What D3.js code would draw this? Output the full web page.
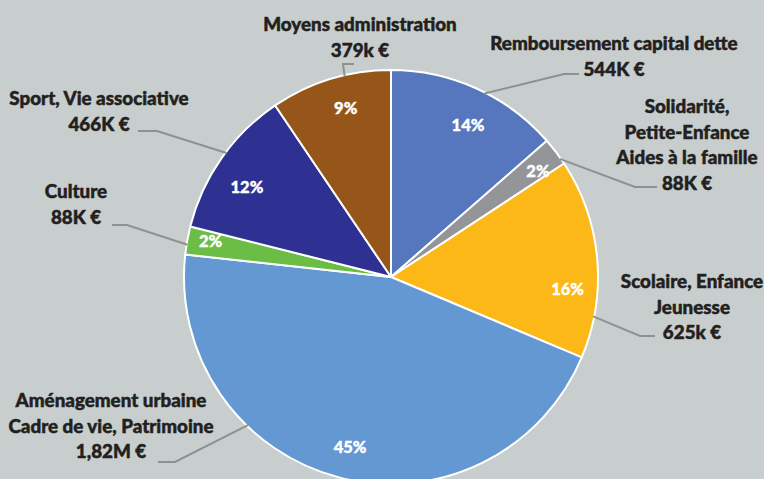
<!DOCTYPE html>
<html>
<head>
<meta charset="utf-8">
<script src="https://cdn.jsdelivr.net/npm/d3@7"></script>
<style>
  html, body { margin: 0; padding: 0; background: #c7cecd; }
  svg text { font-family: Lato, "Noto Sans", sans-serif; font-weight: 900; }
</style>
</head>
<body>
<div id="chart"></div>
<script>
// budget split, in thousands of euros, clockwise from 12 o'clock
var categories = ['Remboursement capital dette', 'Solidarité', 'Scolaire', 'Aménagement urbaine', 'Culture', 'Sport', 'Moyens administration'];
var amounts = [544, 88, 625, 1820, 88, 466, 379];
var amountLabels = ['544K €', '88K €', '625k €', '1,82M €', '88K €', '466K €', '379k €'];
var titleLines = [
    ['Remboursement capital dette'],
    ['Solidarité,', 'Petite-Enfance', 'Aides à la famille'],
    ['Scolaire, Enfance', 'Jeunesse'],
    ['Aménagement urbaine', 'Cadre de vie, Patrimoine'],
    ['Culture'],
    ['Sport, Vie associative'],
    ['Moyens administration']
];
var colors = ['#5676be', '#939598', '#fbb817', '#6398d2', '#6cbd45', '#2e3191', '#975619'];

// where each outside label sits (layout only)
var labelLayout = [
    { x: 614, y: 50,  angle: 27,  elbow: [564, 74],  end: [579, 74] },
    { x: 687, y: 113, angle: 55,  elbow: [635, 187], end: [657, 187] },
    { x: 692, y: 288, angle: 101, elbow: [640, 336], end: [655, 336] },
    { x: 111, y: 407, angle: 224, elbow: [175, 462], end: [158, 462] },
    { x: 76,  y: 198, angle: 279, elbow: [127, 225], end: [112, 225] },
    { x: 99,  y: 105, angle: 307, elbow: [157, 131], end: [138, 131] },
    { x: 360, y: 31,  angle: 347, elbow: [343, 64],  end: [354, 64] }
];
// nudge (degrees) and radius for the percentage inside each slice
var pctLayout = [
    { nudge: 2.5, r: 170 },
    { nudge: 1.5, r: 181 },
    { nudge: 9,   r: 177 },
    { nudge: -1,  r: 175 },
    { nudge: 1,   r: 184 },
    { nudge: -3,  r: 170 },
    { nudge: 2,   r: 175 }
];

var width = 764, height = 479;
var cx = 391, cy = 277, radius = 207;
var lineHeight = 25.5;

var svg = d3.select('#chart').append('svg')
    .attr('width', width)
    .attr('height', height);

var total = d3.sum(amounts);
var data = categories.map(function(c, i) {
    return { name: c, value: amounts[i], color: colors[i], index: i };
});

var pie = d3.pie().value(d => d.value).sort(null);
var arc = d3.arc().innerRadius(0).outerRadius(radius);
var arcs = pie(data);

var g = svg.append('g').attr('transform', 'translate(' + cx + ',' + cy + ')');

g.selectAll('path.slice')
    .data(arcs)
    .enter()
    .append('path')
    .attr('class', 'slice')
    .attr('d', arc)
    .attr('fill', d => d.data.color)
    .attr('stroke', '#ffffff')
    .attr('stroke-width', 2)
    .attr('stroke-linejoin', 'round');

// percentages inside slices
g.selectAll('text.pct')
    .data(arcs)
    .enter()
    .append('text')
    .attr('class', 'pct')
    .attr('transform', function(d, i) {
        var p = pctLayout[i];
        var a = (d.startAngle + d.endAngle) / 2 + p.nudge * Math.PI / 180;
        return 'translate(' + (Math.sin(a) * p.r) + ',' + (-Math.cos(a) * p.r) + ')';
    })
    .attr('text-anchor', 'middle')
    .attr('dy', '0.36em')
    .attr('fill', '#ffffff')
    .attr('stroke', '#ffffff')
    .attr('stroke-width', 0.4)
    .attr('font-size', '16.5px')
    .text(d => Math.round(d.data.value / total * 100) + '%');

// leader lines
svg.selectAll('path.leader')
    .data(labelLayout)
    .enter()
    .append('path')
    .attr('class', 'leader')
    .attr('d', function(l) {
        var a = l.angle * Math.PI / 180;
        var sx = cx + Math.sin(a) * (radius - 1);
        var sy = cy - Math.cos(a) * (radius - 1);
        return d3.line()([[sx, sy], l.elbow, l.end]);
    })
    .attr('fill', 'none')
    .attr('stroke', '#8e9192')
    .attr('stroke-width', 2);

// category + amount labels
var labels = svg.selectAll('text.cat')
    .data(labelLayout)
    .enter()
    .append('text')
    .attr('class', 'cat')
    .attr('x', l => l.x)
    .attr('y', l => l.y)
    .attr('text-anchor', 'middle')
    .attr('font-size', '18.8px')
    .attr('fill', '#231f20')
    .attr('stroke', '#231f20')
    .attr('stroke-width', 0.5);

labels.each(function(l, i) {
    var lines = titleLines[i].concat([amountLabels[i]]);
    d3.select(this).selectAll('tspan')
        .data(lines)
        .enter()
        .append('tspan')
        .attr('x', l.x)
        .attr('y', (t, k) => l.y + k * lineHeight)
        .text(t => t);
});
</script>
</body>
</html>
